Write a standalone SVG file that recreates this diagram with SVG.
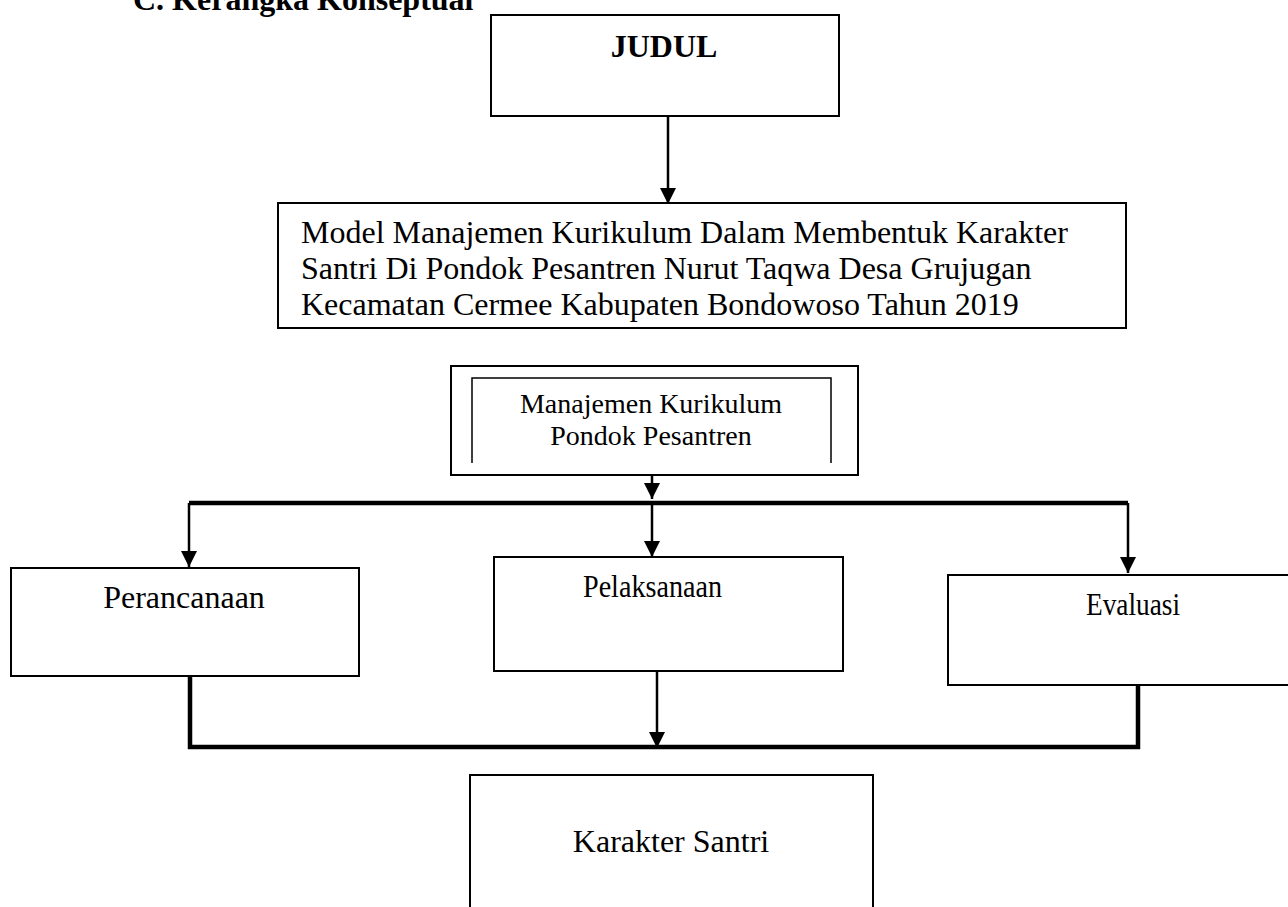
<svg xmlns="http://www.w3.org/2000/svg" width="1288" height="907" viewBox="0 0 1288 907">
<style>
.box{fill:#fff;stroke:#000;stroke-width:2}
.t{font-family:"Liberation Serif","Times New Roman",serif;font-size:32px;fill:#000}
.b{font-weight:bold}
.s{font-size:28px}
.thin{fill:none;stroke:#000;stroke-width:2.5}
.thick{fill:none;stroke:#000;stroke-width:4.5}
</style>
<defs>
<marker id="ah" viewBox="0 0 16 16" markerUnits="userSpaceOnUse" markerWidth="16" markerHeight="16" refX="16" refY="8" orient="auto">
<path d="M0,0 L16,8 L0,16 z" fill="#000"/>
</marker>
</defs>
<rect width="1288" height="907" fill="#fff"/>
<text class="t b" x="133" y="10">C. Kerangka Konseptual</text>

<g id="judul">
<rect class="box" x="491" y="15" width="348" height="101"/>
<text class="t b" x="664" y="57" text-anchor="middle">JUDUL</text>
</g>

<g id="model">
<rect class="box" x="278" y="203" width="848" height="125"/>
<text class="t" x="301" y="243">Model Manajemen Kurikulum Dalam Membentuk Karakter</text>
<text class="t" x="301" y="279">Santri Di Pondok Pesantren Nurut Taqwa Desa Grujugan</text>
<text class="t" x="301" y="315">Kecamatan Cermee Kabupaten Bondowoso Tahun 2019</text>
</g>

<g id="manajemen">
<rect class="box" x="451" y="366" width="407" height="109"/>
<path d="M472,463 V378 H831 V463" fill="none" stroke="#000" stroke-width="1.5"/>
<text class="t s" x="651" y="413" text-anchor="middle">Manajemen Kurikulum</text>
<text class="t s" x="651" y="445" text-anchor="middle">Pondok Pesantren</text>
</g>

<g id="perancanaan">
<rect class="box" x="11" y="568" width="348" height="108"/>
<text class="t" x="184" y="608" text-anchor="middle">Perancanaan</text>
</g>

<g id="pelaksanaan">
<rect class="box" x="494" y="557" width="349" height="114"/>
<text class="t" x="583" y="597" textLength="139" lengthAdjust="spacingAndGlyphs">Pelaksanaan</text>
</g>

<g id="evaluasi">
<rect class="box" x="948" y="575" width="345" height="110"/>
<text class="t" x="1086" y="615" textLength="94" lengthAdjust="spacingAndGlyphs">Evaluasi</text>
</g>

<g id="karakter">
<rect class="box" x="470" y="775" width="403" height="145"/>
<text class="t" x="671" y="852" text-anchor="middle">Karakter Santri</text>
</g>

<g id="connectors">
<line class="thin" x1="668" y1="116" x2="668" y2="204" marker-end="url(#ah)"/>
<line class="thin" x1="652" y1="475" x2="652" y2="499" marker-end="url(#ah)"/>
<path class="thick" d="M189,503 H1128"/>
<line class="thin" x1="189" y1="503" x2="189" y2="567" marker-end="url(#ah)"/>
<line class="thin" x1="652" y1="503" x2="652" y2="557" marker-end="url(#ah)"/>
<line class="thin" x1="1128" y1="503" x2="1128" y2="573" marker-end="url(#ah)"/>
<path class="thick" d="M190,677 V747 H1138 V685"/>
<line class="thin" x1="657" y1="671" x2="657" y2="748" marker-end="url(#ah)"/>
</g>
</svg>
